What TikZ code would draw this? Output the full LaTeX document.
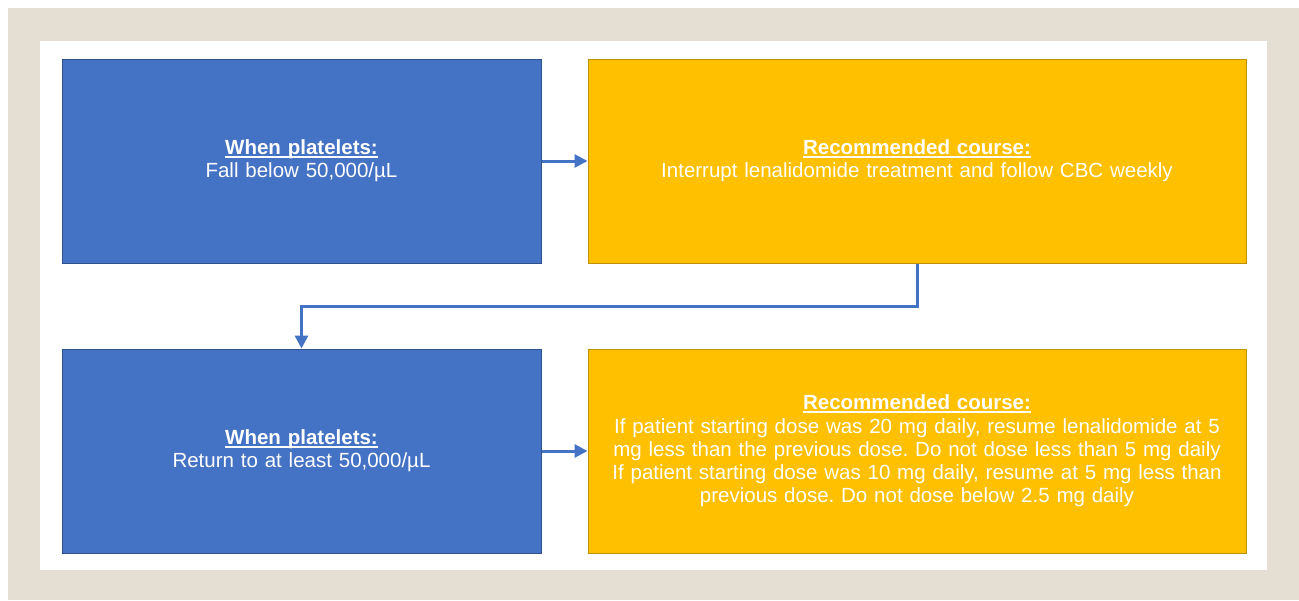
\documentclass[tikz,border=0pt]{standalone}
\usepackage{fontspec}
\setmainfont{Liberation Sans}
\usetikzlibrary{arrows.meta}
\frenchspacing

\definecolor{boxblue}{HTML}{4472C4}
\definecolor{blueedge}{HTML}{2F528F}
\definecolor{boxgold}{HTML}{FFC000}
\definecolor{goldedge}{HTML}{BF9000}
\definecolor{mattbeige}{HTML}{E5DFD3}

\newlength\titlewd
\newcommand{\titleline}[1]{\settowidth{\titlewd}{\textbf{#1}}%
  \textbf{#1}\llap{\rule[-2.8pt]{\titlewd}{1.8pt}}}

\tikzset{
  box/.style={rectangle, line width=1pt, text=white, align=center,
    minimum height=204pt, font=\fontsize{20.5}{23.2}\selectfont},
  condbox/.style={box, draw=blueedge, fill=boxblue, minimum width=479pt, text width=460pt},
  coursebox/.style={box, draw=goldedge, fill=boxgold, minimum width=658pt, text width=645pt},
  link/.style={draw=boxblue, line width=3pt, -{Triangle[length=13pt,width=13pt]}}
}

\begin{document}
\begin{tikzpicture}[x=1pt,y=-1pt]
  \useasboundingbox (0,0) rectangle (1299,600);
  % frame
  \fill[white] (0,0) rectangle (1299,600);
  \fill[mattbeige] (8,8) rectangle (1299,600);
  \fill[white] (40,41) rectangle (1267,570);

  % boxes
  \node[condbox] (fall) at (301.5,161)
    {\titleline{When platelets:}\\Fall below 50,000/µL};
  \node[coursebox] (interrupt) at (917,161)
    {\titleline{Recommended course:}\\Interrupt lenalidomide treatment and follow CBC weekly};
  \node[condbox] (return) at (301.5,451)
    {\titleline{When platelets:}\\Return to at least 50,000/µL};
  \node[coursebox] (resume) at (917,451)
    {\titleline{Recommended course:}\\
     If patient starting dose was 20 mg daily, resume lenalidomide at 5\\
     mg less than the previous dose. Do not dose less than 5 mg daily\\
     If patient starting dose was 10 mg daily, resume at 5 mg less than\\
     previous dose. Do not dose below 2.5 mg daily};

  % connectors
  \draw[link] (fall) -- (interrupt);
  \draw[link] (interrupt.south) -- ++(0,43) -| (return.north);
  \draw[link] (return) -- (resume);
\end{tikzpicture}
\end{document}
